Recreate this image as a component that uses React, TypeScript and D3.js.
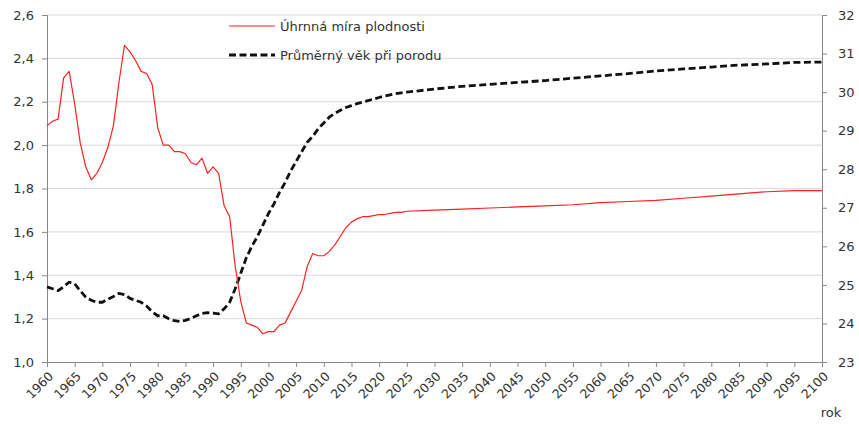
import React, { useRef, useEffect } from 'react';
import * as d3 from 'd3';

// years with data points (yearly to 2025, then 5-year steps of the projection)
const years = [
  1960, 1961, 1962, 1963, 1964, 1965, 1966, 1967, 1968, 1969,
  1970, 1971, 1972, 1973, 1974, 1975, 1976, 1977, 1978, 1979,
  1980, 1981, 1982, 1983, 1984, 1985, 1986, 1987, 1988, 1989,
  1990, 1991, 1992, 1993, 1994, 1995, 1996, 1997, 1998, 1999,
  2000, 2001, 2002, 2003, 2004, 2005, 2006, 2007, 2008, 2009,
  2010, 2011, 2012, 2013, 2014, 2015, 2016, 2017, 2018, 2019,
  2020, 2021, 2022, 2023, 2024, 2025,
  2030, 2035, 2040, 2045, 2050, 2055, 2060, 2065, 2070, 2075,
  2080, 2085, 2090, 2095, 2100,
];

// Úhrnná míra plodnosti (left axis)
const fertility = [
  2.09, 2.11, 2.12, 2.31, 2.34, 2.19, 2.01, 1.9, 1.84, 1.87,
  1.92, 1.99, 2.09, 2.29, 2.46, 2.43, 2.39, 2.34, 2.33, 2.28,
  2.08, 2.0, 2.0, 1.97, 1.97, 1.96, 1.92, 1.91, 1.94, 1.87,
  1.9, 1.87, 1.72, 1.67, 1.44, 1.28, 1.18, 1.17, 1.16, 1.13,
  1.14, 1.14, 1.17, 1.18, 1.23, 1.28, 1.33, 1.44, 1.5, 1.49,
  1.49, 1.51, 1.54, 1.58, 1.62, 1.645, 1.66, 1.67, 1.67, 1.675,
  1.68, 1.68, 1.685, 1.69, 1.69, 1.695,
  1.7, 1.705, 1.71, 1.715, 1.72, 1.725, 1.735, 1.74, 1.745, 1.755,
  1.765, 1.775, 1.785, 1.79, 1.79,
];

// Průměrný věk při porodu (right axis)
const meanAge = [
  24.95, 24.9, 24.85, 24.95, 25.07, 25.03, 24.85, 24.68, 24.6, 24.55,
  24.55, 24.63, 24.7, 24.78, 24.75, 24.65, 24.6, 24.55, 24.45, 24.3,
  24.2, 24.2, 24.12, 24.07, 24.05, 24.08, 24.13, 24.2, 24.26, 24.28,
  24.27, 24.25, 24.38, 24.55, 24.9, 25.3, 25.7, 26.0, 26.25, 26.55,
  26.85, 27.1, 27.4, 27.65, 27.95, 28.2, 28.45, 28.7, 28.85, 29.05,
  29.2, 29.35, 29.45, 29.53, 29.6, 29.65, 29.7, 29.74, 29.78, 29.82,
  29.86, 29.9, 29.93, 29.96, 29.98, 30.0,
  30.08, 30.15, 30.2, 30.25, 30.3, 30.36, 30.42, 30.48, 30.55, 30.6,
  30.65, 30.7, 30.73, 30.77, 30.78,
];

const leftTicks = [1.0, 1.2, 1.4, 1.6, 1.8, 2.0, 2.2, 2.4, 2.6];
const rightTicks = [23, 24, 25, 26, 27, 28, 29, 30, 31, 32];
const xTicks = d3.range(1960, 2101, 5);

const seriesNames = ['Úhrnná míra plodnosti', 'Průměrný věk při porodu'];

const App = () => {
  const svgRef = useRef(null);

  useEffect(() => {
    const width = 859;
    const height = 425;
    const margin = { top: 15, right: 37, bottom: 63, left: 47 };
    const font = '"DejaVu Sans", Verdana, sans-serif';
    const axisColor = '#888888';
    const textColor = '#333333';

    const svg = d3.select(svgRef.current)
      .attr('width', width)
      .attr('height', height);
    svg.selectAll('*').remove();

    const x = d3.scaleLinear()
      .domain([1960, 2100])
      .range([margin.left, width - margin.right]);
    const yL = d3.scaleLinear()
      .domain([1.0, 2.6])
      .range([height - margin.bottom, margin.top]);
    const yR = d3.scaleLinear()
      .domain([23, 32])
      .range([height - margin.bottom, margin.top]);

    const fmt = d3.format('.1f');
    const baseY = height - margin.bottom;

    // gridlines
    svg.append('g')
      .selectAll('line')
      .data(leftTicks.slice(1))
      .enter()
      .append('line')
      .attr('x1', margin.left)
      .attr('x2', width - margin.right)
      .attr('y1', d => yL(d))
      .attr('y2', d => yL(d))
      .attr('stroke', '#d9d9d9')
      .attr('stroke-width', 1);

    // left axis
    const gl = svg.append('g')
      .attr('transform', `translate(${margin.left},0)`)
      .call(d3.axisLeft(yL).tickValues(leftTicks).tickSize(5).tickPadding(8)
        .tickFormat(d => fmt(d).replace('.', ',')));
    gl.select('.domain').attr('stroke', axisColor);
    gl.selectAll('.tick line').attr('stroke', axisColor);
    gl.selectAll('text').attr('fill', textColor).style('font-family', font).style('font-size', '13px');

    // right axis
    const gr = svg.append('g')
      .attr('transform', `translate(${width - margin.right},0)`)
      .call(d3.axisRight(yR).tickValues(rightTicks).tickSize(5).tickPadding(11));
    gr.select('.domain').attr('stroke', axisColor);
    gr.selectAll('.tick line').attr('stroke', axisColor);
    gr.selectAll('text').attr('fill', textColor).style('font-family', font).style('font-size', '13px');

    // bottom axis (labels drawn separately, rotated)
    const gx = svg.append('g')
      .attr('transform', `translate(0,${baseY})`)
      .call(d3.axisBottom(x).tickValues(xTicks).tickSize(5).tickFormat(() => ''));
    gx.select('.domain').attr('stroke', axisColor);
    gx.selectAll('.tick line').attr('stroke', axisColor);

    svg.append('g')
      .selectAll('text')
      .data(xTicks)
      .enter()
      .append('text')
      .attr('transform', d => `translate(${x(d) + 4},${baseY + 12}) rotate(-45)`)
      .attr('dy', '0.35em')
      .attr('text-anchor', 'end')
      .attr('fill', textColor)
      .style('font-family', font)
      .style('font-size', '12.5px')
      .text(d => d);

    // axis title
    svg.append('text')
      .attr('x', 831)
      .attr('y', 417)
      .attr('text-anchor', 'middle')
      .attr('fill', textColor)
      .style('font-family', font)
      .style('font-size', '13px')
      .text('rok');

    // lines
    const idx = d3.range(years.length);
    const redLine = d3.line().x(i => x(years[i])).y(i => yL(fertility[i]));
    const blackLine = d3.line().x(i => x(years[i])).y(i => yR(meanAge[i]));

    svg.append('path')
      .attr('d', blackLine(idx))
      .attr('fill', 'none')
      .attr('stroke', '#111111')
      .attr('stroke-width', 2.8)
      .attr('stroke-dasharray', '7,3.5');

    svg.append('path')
      .attr('d', redLine(idx))
      .attr('fill', 'none')
      .attr('stroke', '#ff2020')
      .attr('stroke-width', 1.2)
      .attr('stroke-linejoin', 'round');

    // legend
    const legend = svg.append('g');
    const rows = [
      { y: 26, stroke: '#ff2020', w: 1.2, dash: null },
      { y: 55, stroke: '#111111', w: 2.8, dash: '7,3.5' },
    ];
    rows.forEach((r, i) => {
      legend.append('line')
        .attr('x1', 229)
        .attr('x2', 275)
        .attr('y1', r.y)
        .attr('y2', r.y)
        .attr('stroke', r.stroke)
        .attr('stroke-width', r.w)
        .attr('stroke-dasharray', r.dash);
      legend.append('text')
        .attr('x', 280)
        .attr('y', r.y)
        .attr('dy', '0.35em')
        .attr('fill', textColor)
        .style('font-family', font)
        .style('font-size', '13px')
        .text(seriesNames[i]);
    });
  }, []);

  return <svg ref={svgRef} style={{ position: 'absolute', left: 0, top: 0 }}></svg>;
};

export default App;
